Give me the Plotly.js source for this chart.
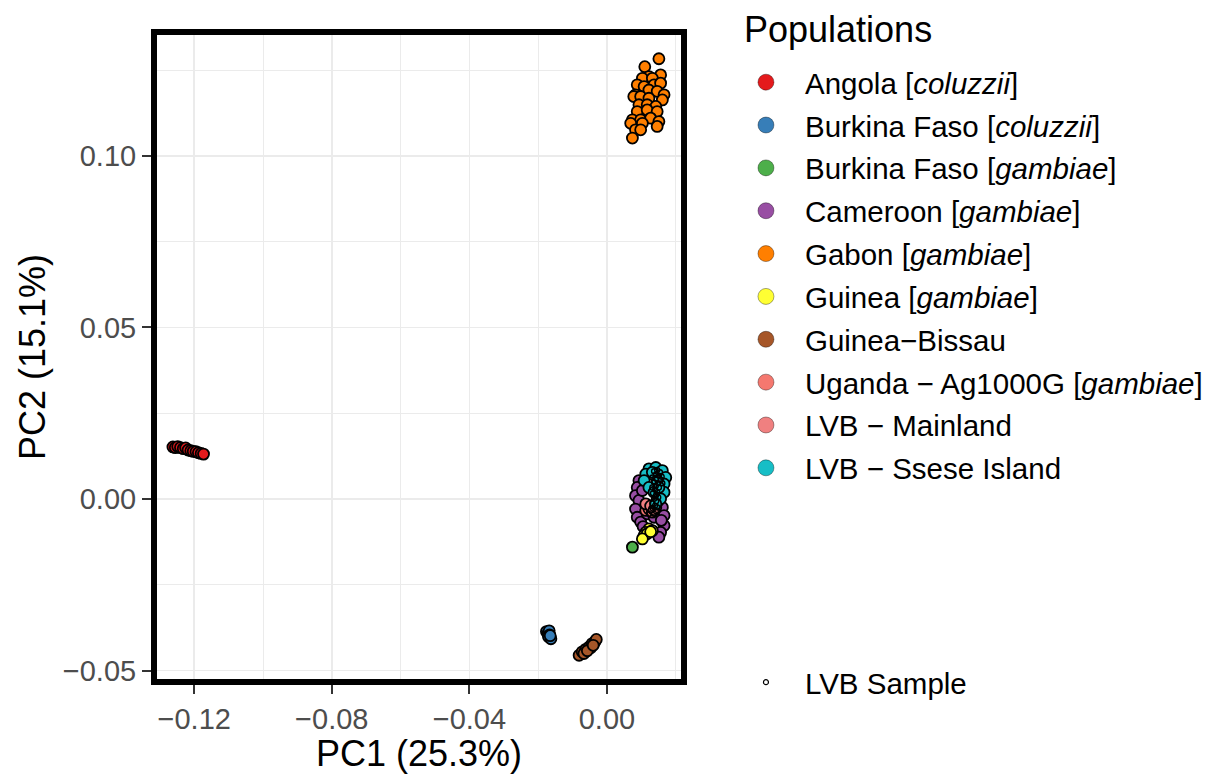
<!DOCTYPE html>
<html>
<head>
<meta charset="utf-8">
<script src="https://cdn.plot.ly/plotly-3.0.1.min.js"></script>
<style>
  html, body { margin: 0; padding: 0; background: #ffffff; }
  #chart { width: 1212px; height: 774px; }
</style>
</head>
<body>
<div id="chart"></div>
<script>
// Population labels, fill colours and PCA coordinates (PC1, PC2)
const populationNames = [
  "Angola [<i>coluzzii</i>]",
  "Burkina Faso [<i>coluzzii</i>]",
  "Burkina Faso [<i>gambiae</i>]",
  "Cameroon [<i>gambiae</i>]",
  "Gabon [<i>gambiae</i>]",
  "Guinea [<i>gambiae</i>]",
  "Guinea\u2212Bissau",
  "Uganda \u2212 Ag1000G [<i>gambiae</i>]",
  "LVB \u2212 Mainland",
  "LVB \u2212 Ssese Island"
];
const populationColors = [
  "#E41A1C", "#377EB8", "#4DAF4A", "#984EA3", "#FF7F00",
  "#FFFF33", "#A65628", "#F5786F", "#F08080", "#17BEC6"
];

const angolaX = [-0.1262, -0.1255, -0.1248, -0.1240, -0.1232, -0.1225, -0.1218, -0.1210, -0.1203, -0.1195, -0.1188, -0.1180, -0.1173];
const angolaY = [0.0152, 0.0150, 0.0153, 0.0150, 0.0147, 0.0149, 0.0143, 0.0141, 0.0139, 0.0138, 0.0135, 0.0133, 0.0131];

const bfColuzziiX = [-0.0176, -0.0172, -0.0168, -0.0167, -0.0170, -0.0163, -0.0165];
const bfColuzziiY = [-0.0386, -0.0392, -0.0384, -0.0396, -0.0401, -0.0407, -0.0398];

const bfGambiaeX = [0.0074];
const bfGambiaeY = [-0.0140];

const cameroonX = [0.0093, 0.0088, 0.0083, 0.0093, 0.0083, 0.0088, 0.0098, 0.0161, 0.0166, 0.0166, 0.0156, 0.0151, 0.0117, 0.0137, 0.0103, 0.0105, 0.0158];
const cameroonY = [0.0054, 0.0034, 0.0010, -0.0004, -0.0029, -0.0053, -0.0067, -0.0024, -0.0048, -0.0077, -0.0097, -0.0111, -0.0043, -0.0053, 0.0025, -0.0080, -0.0062];

const gabonX = [0.0151, 0.0110, 0.0156, 0.0122, 0.0103, 0.0132, 0.0088, 0.0108, 0.0137, 0.0156, 0.0083, 0.0122, 0.0146, 0.0166, 0.0078, 0.0098, 0.0122, 0.0161, 0.0093, 0.0117, 0.0142, 0.0088, 0.0117, 0.0146, 0.0074, 0.0098, 0.0127, 0.0151, 0.0069, 0.0103, 0.0146, 0.0083, 0.0098, 0.0074];
const gabonY = [0.1283, 0.1260, 0.1236, 0.1231, 0.1226, 0.1226, 0.1207, 0.1202, 0.1207, 0.1212, 0.1178, 0.1192, 0.1188, 0.1178, 0.1173, 0.1173, 0.1168, 0.1163, 0.1149, 0.1149, 0.1144, 0.1129, 0.1134, 0.1129, 0.1105, 0.1105, 0.1110, 0.1100, 0.1095, 0.1095, 0.1086, 0.1076, 0.1076, 0.1052];

const guineaX = [0.0122, 0.0113, 0.0108, 0.0117, 0.0132, 0.0103, 0.0127];
const guineaY = [-0.0087, -0.0097, -0.0106, -0.0101, -0.0092, -0.0116, -0.0095];

const guineaBissauX = [-0.0081, -0.0072, -0.0062, -0.0052, -0.0043, -0.0035, -0.0031, -0.0067, -0.0047, -0.0057, -0.0040];
const guineaBissauY = [-0.0455, -0.0445, -0.0438, -0.0431, -0.0421, -0.0416, -0.0409, -0.0450, -0.0433, -0.0442, -0.0426];

const ugandaX = [0.0113, 0.0122, 0.0132, 0.0142];
const ugandaY = [-0.0033, -0.0029, -0.0038, -0.0024];

const mainlandX = [0.0113, 0.0146, 0.0127, 0.0137];
const mainlandY = [-0.0014, -0.0009, -0.0020, -0.0031];

const sseseX = [0.0122, 0.0142, 0.0161, 0.0171, 0.0166, 0.0166, 0.0156, 0.0142, 0.0113, 0.0108, 0.0132, 0.0146, 0.0122, 0.0137, 0.0151];
const sseseY = [0.0088, 0.0092, 0.0083, 0.0063, 0.0044, 0.0020, 0.0001, -0.0014, 0.0073, 0.0054, 0.0078, 0.0054, 0.0034, 0.0020, 0.0034];

// Individual LVB samples drawn as small open circles on top
const lvbSampleX = [0.0137, 0.0146, 0.0154, 0.0142, 0.0151, 0.0132, 0.0143, 0.0156, 0.0137, 0.0149, 0.0142, 0.0132, 0.0151, 0.0140, 0.0146, 0.0134, 0.0142, 0.0149, 0.0137, 0.0143, 0.0132, 0.0140, 0.0146, 0.0134, 0.0127, 0.0142, 0.0122, 0.0137, 0.0159, 0.0161];
const lvbSampleY = [0.0081, 0.0085, 0.0078, 0.0071, 0.0068, 0.0063, 0.0059, 0.0056, 0.0049, 0.0046, 0.0039, 0.0034, 0.0034, 0.0027, 0.0020, 0.0017, 0.0010, 0.0005, 0.0001, -0.0006, -0.0012, -0.0019, -0.0024, -0.0028, -0.0033, -0.0035, -0.0043, -0.0043, 0.0065, 0.0046];

const seriesX = [angolaX, bfColuzziiX, bfGambiaeX, cameroonX, gabonX, guineaX, guineaBissauX, ugandaX, mainlandX, sseseX];
const seriesY = [angolaY, bfColuzziiY, bfGambiaeY, cameroonY, gabonY, guineaY, guineaBissauY, ugandaY, mainlandY, sseseY];

const FONT = "Liberation Sans, Arial, Helvetica, sans-serif";
const traces = [];

// Point clouds per population (filled circles with black outline)
populationNames.forEach((name, i) => {
  traces.push({
    type: "scatter", mode: "markers",
    x: seriesX[i], y: seriesY[i],
    name: name, showlegend: false, hoverinfo: "skip",
    marker: { size: 11, color: populationColors[i], line: { color: "#000000", width: 1.8 } }
  });
});

traces.push({
  type: "scatter", mode: "markers",
  x: lvbSampleX, y: lvbSampleY,
  name: "LVB Sample", showlegend: false, hoverinfo: "skip",
  marker: { symbol: "circle-open", size: 5, color: "#000000", line: { color: "#000000", width: 1.4 } }
});

// Legend keys
populationNames.forEach((name, i) => {
  traces.push({
    type: "scatter", mode: "markers",
    x: [null], y: [null],
    name: name, legend: "legend", legendgroup: "pop" + i, showlegend: true,
    marker: { size: 16, color: populationColors[i], line: { color: "rgba(0,0,0,0.35)", width: 1 } }
  });
});
traces.push({
  type: "scatter", mode: "markers",
  x: [null], y: [null],
  name: "LVB Sample", legend: "legend2", showlegend: true,
  marker: { symbol: "circle-open", size: 5, color: "#000000", line: { color: "#000000", width: 1.2 } }
});

const gridMajor = "#EBEBEB";

const layout = {
  width: 1212, height: 774,
  paper_bgcolor: "#ffffff", plot_bgcolor: "#ffffff",
  margin: { l: 154, r: 528, t: 32, b: 92, pad: 0 },
  font: { family: FONT, color: "#000000" },
  showlegend: true,
  xaxis: {
    range: [-0.1317, 0.0224],
    tickmode: "linear", tick0: 0, dtick: 0.04, tickformat: ".2f",
    ticks: "outside", ticklen: 11, tickwidth: 2, tickcolor: "#333333",
    tickfont: { family: FONT, size: 29, color: "#4D4D4D" },
    showgrid: true, gridcolor: gridMajor, gridwidth: 1.6,
    minor: { tick0: 0, dtick: 0.02, showgrid: true, gridcolor: gridMajor, gridwidth: 1, ticklen: 0 },
    zeroline: false, showline: false,
    title: { text: "PC1 (25.3%)", font: { family: FONT, size: 36, color: "#000000" }, standoff: 8 }
  },
  yaxis: {
    range: [-0.0533, 0.1361],
    tickmode: "linear", tick0: 0, dtick: 0.05, tickformat: ".2f",
    ticks: "outside", ticklen: 11, tickwidth: 2, tickcolor: "#333333",
    tickfont: { family: FONT, size: 29, color: "#4D4D4D" },
    showgrid: true, gridcolor: gridMajor, gridwidth: 1.6,
    minor: { tick0: 0, dtick: 0.025, showgrid: true, gridcolor: gridMajor, gridwidth: 1, ticklen: 0 },
    zeroline: false, showline: false,
    title: { text: "PC2 (15.1%)", font: { family: FONT, size: 36, color: "#000000" }, standoff: 6 }
  },
  legend: {
    xref: "container", yref: "container",
    x: 0.5998, xanchor: "left", y: 0.927, yanchor: "top",
    bgcolor: "rgba(0,0,0,0)", borderwidth: 0, maxheight: 700,
    font: { family: FONT, size: 29.5, color: "#000000" },
    itemwidth: 68, tracegroupgap: 1.5, itemsizing: "trace", itemclick: false, itemdoubleclick: false
  },
  legend2: {
    xref: "container", yref: "container",
    x: 0.5998, xanchor: "left", y: 0.1518, yanchor: "top",
    bgcolor: "rgba(0,0,0,0)", borderwidth: 0, maxheight: 200,
    font: { family: FONT, size: 29.5, color: "#000000" },
    itemwidth: 68, itemsizing: "trace", itemclick: false, itemdoubleclick: false
  },
  annotations: [{
    text: "Populations", xref: "paper", yref: "paper",
    x: 1.1095, xanchor: "left", y: 1.0031, yanchor: "middle",
    showarrow: false, font: { family: FONT, size: 36, color: "#000000" }
  }],
  shapes: [{
    type: "rect", xref: "paper", yref: "paper", x0: 0, x1: 1, y0: 0, y1: 1,
    line: { color: "#000000", width: 6 }, fillcolor: "rgba(0,0,0,0)", layer: "above"
  }]
};

Plotly.newPlot("chart", traces, layout, { displayModeBar: false, staticPlot: true });
</script>
</body>
</html>
